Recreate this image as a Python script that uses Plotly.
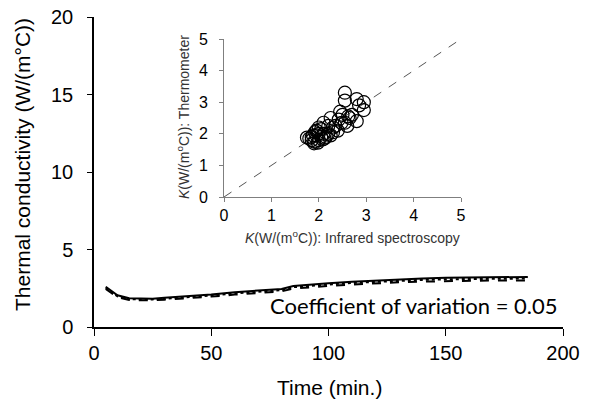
import plotly.graph_objects as go

# Main chart data
time_min = [5, 10, 15, 20, 25, 30, 40, 50, 60, 70, 80, 85, 90, 100, 110, 120, 130, 140, 150, 160, 170, 185]
k_solid = [2.60, 2.05, 1.85, 1.82, 1.83, 1.88, 1.98, 2.10, 2.25, 2.35, 2.45, 2.65, 2.72, 2.82, 2.92, 3.00, 3.08, 3.13, 3.18, 3.20, 3.22, 3.23]
k_dotted = [2.52, 1.98, 1.80, 1.77, 1.78, 1.82, 1.92, 2.03, 2.17, 2.28, 2.38, 2.57, 2.64, 2.74, 2.84, 2.92, 2.99, 3.04, 3.08, 3.10, 3.12, 3.13]
k_dashed = [2.45, 1.92, 1.74, 1.71, 1.72, 1.76, 1.85, 1.96, 2.09, 2.20, 2.30, 2.48, 2.55, 2.65, 2.74, 2.82, 2.88, 2.93, 2.96, 2.98, 3.00, 3.00]

# Inset scatter data
k_infrared = [2.55, 2.55, 2.80, 2.85, 2.95, 2.95, 2.80, 2.45, 2.50, 2.65, 2.70, 2.60, 2.55, 2.25, 2.40,
              2.30, 2.10, 2.20, 2.00, 1.95, 1.80, 1.85, 1.90, 1.90, 2.00, 2.05, 2.10, 2.00, 1.85, 2.15,
              1.95, 2.30, 2.20, 2.05, 1.75, 1.88, 2.12, 2.35, 2.48, 2.62, 1.98, 2.08, 1.92, 2.25, 2.42]
k_thermo = [3.30, 3.05, 3.10, 2.90, 3.00, 2.75, 2.40, 2.70, 2.60, 2.50, 2.60, 2.25, 2.35, 2.50, 2.10,
            2.20, 2.35, 2.00, 2.20, 2.10, 1.85, 1.90, 1.75, 1.70, 1.80, 1.90, 2.00, 2.00, 1.80, 1.90,
            1.95, 2.05, 2.25, 2.15, 1.88, 1.95, 1.85, 2.25, 2.35, 2.55, 1.72, 1.82, 2.05, 1.95, 2.45]
diag = [0, 5]

x_ticks = [0, 50, 100, 150, 200]
y_ticks = [0, 5, 10, 15, 20]
inset_ticks = [0, 1, 2, 3, 4, 5]

W, H = 597, 406
PAD = "\u2002"

fig = go.Figure()
for ys, dash in [(k_solid, "solid"), (k_dotted, "dot"), (k_dashed, "dash")]:
    fig.add_trace(go.Scatter(x=time_min, y=ys, mode="lines",
                             line=dict(color="black", width=2, dash=dash),
                             xaxis="x", yaxis="y", showlegend=False))

fig.add_trace(go.Scatter(x=diag, y=diag, mode="lines",
                         line=dict(color="#555555", width=1, dash="dash"),
                         xaxis="x2", yaxis="y2", showlegend=False))
fig.add_trace(go.Scatter(x=k_infrared, y=k_thermo, mode="markers",
                         marker=dict(symbol="circle-open", size=13, color="black", line=dict(width=1.2)),
                         xaxis="x2", yaxis="y2", showlegend=False))

FONT = "Liberation Sans"
main_tick = dict(family=FONT, size=20, color="black")
inset_tick = dict(family=FONT, size=16, color="black")

fig.update_layout(
    width=W, height=H,
    margin=dict(l=0, r=0, t=0, b=0),
    font=dict(family=FONT),
    paper_bgcolor="white", plot_bgcolor="rgba(0,0,0,0)",
    xaxis=dict(domain=[94/W, 563/W], range=[0, 200], tickvals=x_ticks, automargin=False,
               showgrid=False, zeroline=False, showline=True, linecolor="black", linewidth=1.5,
               ticks="outside", ticklen=7, tickcolor="black", tickfont=main_tick, anchor="y"),
    yaxis=dict(domain=[1-327/H, 1-17/H], range=[0, 20], tickvals=y_ticks,
               ticktext=[f"{v}{PAD}" for v in y_ticks], automargin=False,
               showgrid=False, zeroline=False, showline=True, linecolor="black", linewidth=1.5,
               ticks="outside", ticklen=5, tickcolor="black", tickfont=main_tick, anchor="x"),
    xaxis2=dict(domain=[224/W, 461/W], range=[0, 5], tickvals=inset_ticks, automargin=False,
                showgrid=False, zeroline=False, showline=True, linecolor="#7f7f7f", linewidth=1,
                ticks="outside", ticklen=4, tickcolor="#7f7f7f", tickfont=inset_tick, anchor="y2"),
    yaxis2=dict(domain=[1-197/H, 1-39/H], range=[0, 5], tickvals=inset_ticks,
                ticktext=[f"{v}{PAD}" for v in inset_ticks], automargin=False,
                showgrid=False, zeroline=False, showline=True, linecolor="#7f7f7f", linewidth=1,
                ticks="outside", ticklen=4, tickcolor="#7f7f7f", tickfont=inset_tick, anchor="x2"),
    annotations=[
        dict(text="Coefficient of variation = 0.05", x=560/W, y=1-305/H, xref="paper", yref="paper",
             xanchor="right", yanchor="middle", showarrow=False,
             font=dict(family="Lato, Open Sans", size=22, color="black")),
        dict(text="Time (min.)", x=329/W, y=1-387/H, xref="paper", yref="paper",
             xanchor="center", yanchor="middle", showarrow=False,
             font=dict(family=FONT, size=21, color="black")),
        dict(text="Thermal conductivity (W/(m°C))", x=22/W, y=1-165/H, xref="paper", yref="paper",
             xanchor="center", yanchor="middle", showarrow=False, textangle=-90,
             font=dict(family=FONT, size=21, color="black")),
        dict(text="<i>K</i>(W/(m<sup>o</sup>C)): Infrared spectroscopy", x=352/W, y=1-237/H,
             xref="paper", yref="paper", xanchor="center", yanchor="middle", showarrow=False,
             font=dict(family=FONT, size=14, color="#333333")),
        dict(text="<i>K</i>(W/(m<sup>o</sup>C)): Thermometer", x=183/W, y=1-117/H,
             xref="paper", yref="paper", xanchor="center", yanchor="middle", showarrow=False,
             textangle=-90, font=dict(family=FONT, size=14, color="#333333")),
    ],
)

fig.write_html("out.html")
